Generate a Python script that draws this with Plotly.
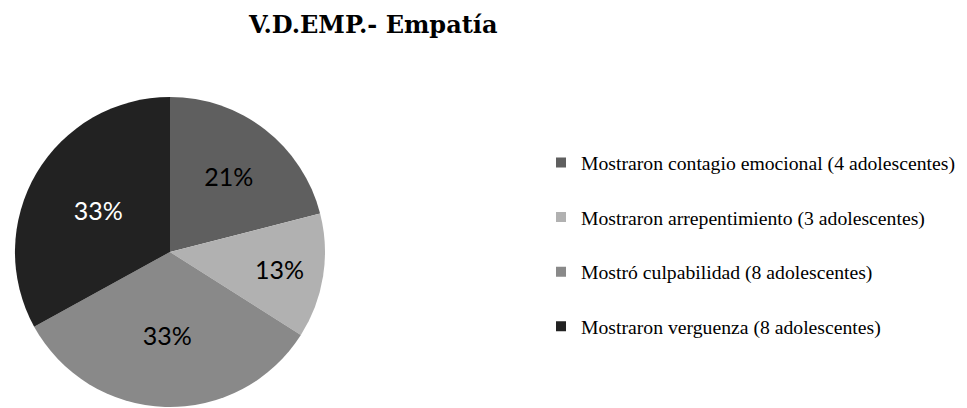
import plotly.graph_objects as go

categories = [
    "Mostraron contagio emocional (4 adolescentes)",
    "Mostraron arrepentimiento (3 adolescentes)",
    "Mostró culpabilidad (8 adolescentes)",
    "Mostraron verguenza (8 adolescentes)",
]
percents = [21, 13, 33, 33]
colors = ["#5f5f5f", "#b1b1b1", "#898989", "#222222"]
text_colors = ["#000000", "#000000", "#000000", "#ffffff"]

fig = go.Figure()

fig.add_trace(go.Pie(
    labels=categories,
    values=percents,
    sort=False,
    direction="clockwise",
    rotation=0,
    marker=dict(colors=colors, line=dict(width=0)),
    textinfo="percent",
    texttemplate="%{percent:.0%}",
    textposition="inside",
    insidetextorientation="horizontal",
    insidetextfont=dict(family="Lato, Open Sans, sans-serif", size=25, color=text_colors),
    domain=dict(x=[0.0072, 0.3278], y=[0.022, 0.782]),
    showlegend=False,
    hoverinfo="label+percent",
))

# legend entries as square markers, one group each so the gap can be set
for name, col in zip(categories, colors):
    fig.add_trace(go.Scatter(
        x=[None], y=[None],
        mode="markers",
        marker=dict(symbol="square", size=10, color=col),
        name=name,
        legendgroup=name,
        showlegend=True,
    ))

fig.update_layout(
    width=967,
    height=408,
    margin=dict(l=0, r=0, t=0, b=0),
    paper_bgcolor="white",
    plot_bgcolor="white",
    title=dict(
        text="<b>V.D.EMP.- Empatía</b>",
        x=0.3777, xanchor="center",
        y=0.96, yanchor="middle",
        font=dict(family="DejaVu Serif, Liberation Serif, serif", size=24, color="#000000"),
    ),
    xaxis=dict(visible=False),
    yaxis=dict(visible=False),
    legend=dict(
        x=0.5512, xanchor="left",
        y=0.42, yanchor="middle",
        font=dict(family="Liberation Serif, serif", size=19.7, color="#000000"),
        tracegroupgap=26,
        itemwidth=30,
        bgcolor="rgba(0,0,0,0)",
    ),
)

fig.write_html("out.html")
